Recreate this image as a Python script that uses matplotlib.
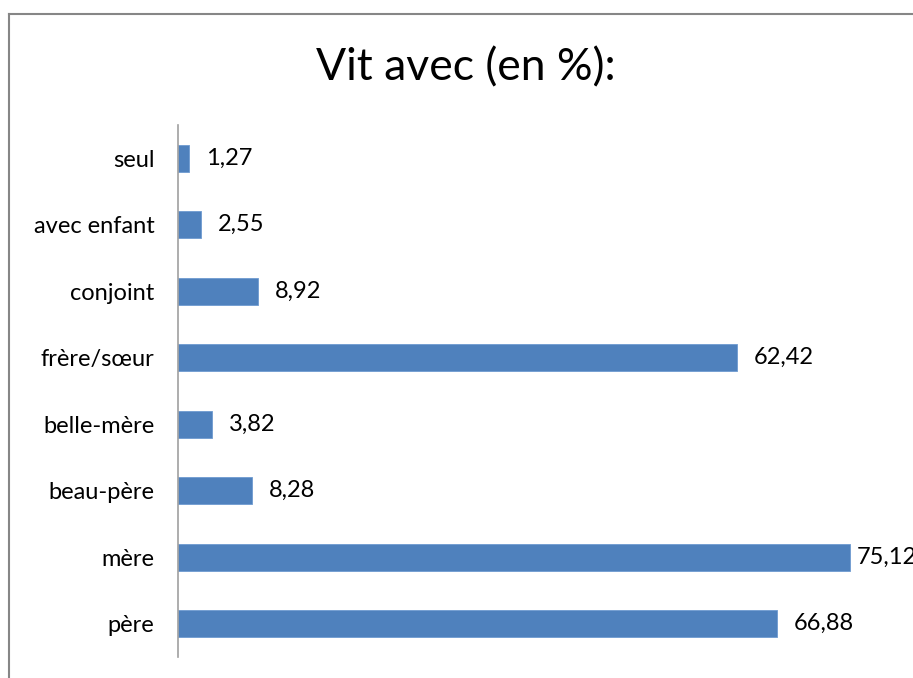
import matplotlib
matplotlib.use("Agg")
from matplotlib import pyplot as plt
from matplotlib.lines import Line2D

# data, bottom to top
categories = ["père", "mère", "beau-père", "belle-mère", "frère/sœur", "conjoint", "avec enfant", "seul"]
values = [66.88, 75.12, 8.28, 3.82, 62.42, 8.92, 2.55, 1.27]
labels = ["66,88", "75,12", "8,28", "3,82", "62,42", "8,92", "2,55", "1,27"]
title = "Vit avec (en %):"

plt.rcParams['font.family'] = ['Lato', 'DejaVu Sans']

fig = plt.figure(figsize=(9.13, 6.78), dpi=100)
W, H = 913, 678

# outer chart frame (only left and top edges show)
fig.add_artist(Line2D([9 / W, 9 / W], [0, 1 - 13.5 / H], transform=fig.transFigure, color="#868686", lw=1.5))
fig.add_artist(Line2D([9 / W, 1], [1 - 13.5 / H, 1 - 13.5 / H], transform=fig.transFigure, color="#868686", lw=1.5))

ax = fig.add_axes([178 / W, 21 / H, (894 - 178) / W, (657 - 125) / H])
pos = range(len(categories))
ax.barh(pos, values, height=0.4, color="#4F81BD", edgecolor="#6E9AD0", linewidth=0.6)

# labels sit right of the bar, squeezed in when near the edge (like excel does)
for i, (v, s) in enumerate(zip(values, labels)):
    ax.text(min(v + 1.9, 75.8), i, s, va="center", ha="left", fontsize=17)

ax.set_xlim(0, 80)
ax.set_ylim(-0.5, len(categories) - 0.5)
ax.set_yticks(list(pos))
ax.set_yticklabels(categories, fontsize=17)
ax.tick_params(axis="y", length=0, pad=17)
ax.set_xticks([])
for side in ["top", "right", "bottom"]:
    ax.spines[side].set_visible(False)
ax.spines["left"].set_color("#A0A0A0")
ax.spines["left"].set_linewidth(1.2)

fig.text(466 / W, 1 - 68 / H, title, ha="center", va="center", fontsize=32)

plt.savefig("out.png", dpi=100)
